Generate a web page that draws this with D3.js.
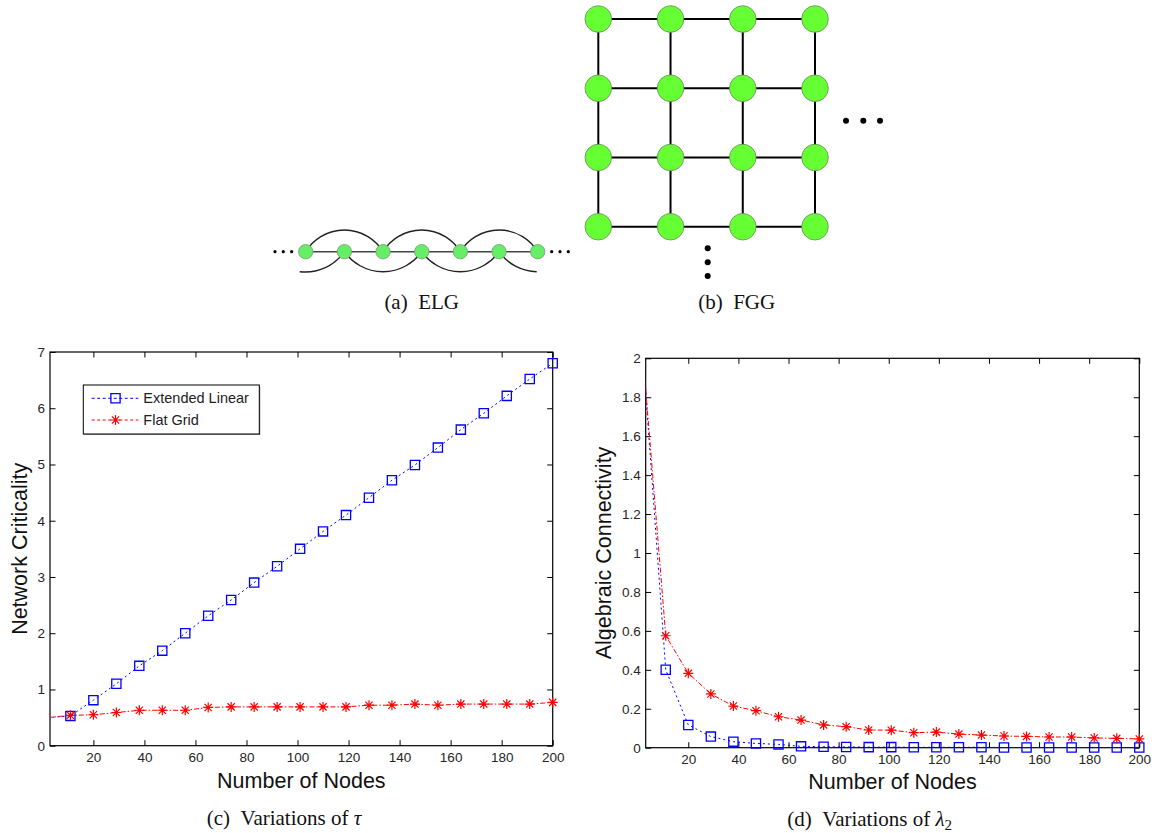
<!DOCTYPE html>
<html><head><meta charset="utf-8">
<script src="https://cdn.jsdelivr.net/npm/d3@7/dist/d3.min.js"></script>
<style>body{margin:0;background:#fff}</style>
</head><body>
<svg id="fig" width="1161" height="833" xmlns="http://www.w3.org/2000/svg"></svg>
<script>
// ---------------- data ----------------
const nodeCounts = [2, 11, 20, 29, 38, 47, 56, 65, 74, 83, 92, 101, 110, 119, 128, 137, 146, 155, 164, 173, 182, 191, 200];
const elgCriticality = [0.50, 0.53, 0.81, 1.10, 1.42, 1.69, 2.00, 2.31, 2.59, 2.90, 3.19, 3.50, 3.81, 4.10, 4.41, 4.72, 4.99, 5.30, 5.62, 5.91, 6.22, 6.52, 6.80];
const fggCriticality = [0.50, 0.54, 0.55, 0.59, 0.63, 0.63, 0.63, 0.68, 0.69, 0.69, 0.69, 0.69, 0.69, 0.69, 0.72, 0.72, 0.74, 0.72, 0.74, 0.74, 0.74, 0.74, 0.77];
const elgLambda2 = [2.00, 0.40, 0.117, 0.057, 0.031, 0.022, 0.017, 0.007, 0.005, 0.004, 0.003, 0.003, 0.002, 0.002, 0.002, 0.002, 0.001, 0.001, 0.001, 0.001, 0.001, 0.001, 0.001];
const fggLambda2 = [2.00, 0.575, 0.382, 0.276, 0.214, 0.19, 0.159, 0.142, 0.117, 0.108, 0.091, 0.09, 0.077, 0.08, 0.070, 0.065, 0.060, 0.058, 0.055, 0.055, 0.05, 0.048, 0.045];
const xTicks = [20, 40, 60, 80, 100, 120, 140, 160, 180, 200];
const yTicksC = [0, 1, 2, 3, 4, 5, 6, 7];
const yTicksD = [0, 0.2, 0.4, 0.6, 0.8, 1, 1.2, 1.4, 1.6, 1.8, 2];
const seriesNames = ["Extended Linear", "Flat Grid"];
const elgNodeIdx = [0, 1, 2, 3, 4, 5, 6];
const fggIdx = [0, 1, 2, 3];

// ---------------- setup ----------------
const svg = d3.select("#fig");
svg.append("rect").attr("width", 1161).attr("height", 833).attr("fill", "#fff");
const SANS = "'Liberation Sans', Arial, sans-serif";
const SERIF = "'Liberation Serif', 'Times New Roman', serif";
const BLUE = "#0000ff", RED = "#ff0000";

const starSym = {
  draw(ctx, size) {
    const r = Math.sqrt(size) / 2, d = r * 0.72;
    ctx.moveTo(0, -r); ctx.lineTo(0, r);
    ctx.moveTo(-r, 0); ctx.lineTo(r, 0);
    ctx.moveTo(-d, -d); ctx.lineTo(d, d);
    ctx.moveTo(-d, d); ctx.lineTo(d, -d);
  }
};
const squareSym = d3.symbol().type(d3.symbolSquare).size(85);
const starPath = d3.symbol().type(starSym).size(100);
const blueDash = "2,3", redDash = "5,2,1.5,2";

// ---------------- (a) ELG ----------------
const ga = svg.append("g");
const ex = d3.scaleLinear().domain([0, 6]).range([305.7, 537.7]);
const ey = 251.7;
function circArc(x1, y1, x2, y2, r, sweep) {
  return `M${x1},${y1} A${r},${r} 0 0 ${sweep} ${x2},${y2}`;
}
// horizontal line
ga.append("line").attr("x1", ex(0)).attr("x2", ex(6)).attr("y1", ey).attr("y2", ey)
  .attr("stroke", "#444").attr("stroke-width", 1.6);
// upper arcs i -> i+2 (even)
[0, 2, 4].forEach(i => {
  ga.append("path").attr("d", circArc(ex(i), ey, ex(i + 2), ey, 45.3, 1))
    .attr("fill", "none").attr("stroke", "#222").attr("stroke-width", 1.4);
});
// lower arcs odd
[1, 3].forEach(i => {
  ga.append("path").attr("d", circArc(ex(i), ey, ex(i + 2), ey, 47.4, 0))
    .attr("fill", "none").attr("stroke", "#222").attr("stroke-width", 1.4);
});
// partial lower arcs at ends
ga.append("path").attr("d", circArc(ex(0) - 6, ey + 20, ex(1), ey, 47.4, 0))
  .attr("fill", "none").attr("stroke", "#222").attr("stroke-width", 1.4);
ga.append("path").attr("d", circArc(ex(5), ey, ex(6) - 1, ey + 20, 47.4, 0))
  .attr("fill", "none").attr("stroke", "#222").attr("stroke-width", 1.4);
ga.selectAll("circle.n").data(elgNodeIdx).join("circle").attr("class", "n")
  .attr("cx", d => ex(d)).attr("cy", ey).attr("r", 7.2)
  .attr("fill", "#66ee66").attr("stroke", "#7a9a7a").attr("stroke-width", 0.8);
[275, 283.3, 291.7, 551.7, 560, 568.3].forEach(x => {
  ga.append("circle").attr("cx", x).attr("cy", ey).attr("r", 1.6).attr("fill", "#000");
});
ga.append("text").attr("x", 421.7).attr("y", 309).attr("text-anchor", "middle")
  .attr("font-family", SERIF).attr("font-size", 21).attr("fill", "#111")
  .text("(a)\u00a0\u00a0ELG");

// ---------------- (b) FGG ----------------
const gb = svg.append("g");
const fx = d3.scaleLinear().domain([0, 3]).range([598.3, 815]);
const fy = d3.scaleLinear().domain([0, 3]).range([19, 226.7]);
fggIdx.forEach(r => {
  gb.append("line").attr("x1", fx(0)).attr("x2", fx(3)).attr("y1", fy(r)).attr("y2", fy(r))
    .attr("stroke", "#000").attr("stroke-width", 2);
  gb.append("line").attr("y1", fy(0)).attr("y2", fy(3)).attr("x1", fx(r)).attr("x2", fx(r))
    .attr("stroke", "#000").attr("stroke-width", 2);
});
fggIdx.forEach(r => fggIdx.forEach(c => {
  gb.append("circle").attr("cx", fx(c)).attr("cy", fy(r)).attr("r", 13.3)
    .attr("fill", "#66ff33").attr("stroke", "#6a8a5a").attr("stroke-width", 0.8);
}));
[[846, 120.7], [863.3, 120.7], [880, 120.7], [707.7, 248.3], [707.7, 262.3], [707.7, 276]].forEach(p => {
  gb.append("circle").attr("cx", p[0]).attr("cy", p[1]).attr("r", 3).attr("fill", "#000");
});
gb.append("text").attr("x", 736.7).attr("y", 309).attr("text-anchor", "middle")
  .attr("font-family", SERIF).attr("font-size", 21).attr("fill", "#111")
  .text("(b)\u00a0\u00a0FGG");

// ---------------- plots ----------------
function drawPlot(cfg) {
  const g = svg.append("g");
  const x = d3.scaleLinear().domain([3, 200]).range([cfg.x0, cfg.x1]);
  const y = d3.scaleLinear().domain(cfg.yDomain).range([cfg.y1, cfg.y0]);
  const clipId = "clip" + cfg.id;
  svg.append("clipPath").attr("id", clipId).append("rect")
    .attr("x", cfg.x0).attr("y", cfg.y0).attr("width", cfg.x1 - cfg.x0).attr("height", cfg.y1 - cfg.y0);

  const fmt = d => String(+d.toFixed(1));
  const styleAxis = sel => {
    sel.select(".domain").remove();
    sel.selectAll(".tick line").attr("stroke", "#000").attr("stroke-width", 1);
    sel.selectAll(".tick text").attr("font-family", SANS).attr("font-size", 13.5).attr("fill", "#262626");
  };
  g.append("g").attr("transform", `translate(0,${cfg.y1})`)
    .call(d3.axisBottom(x).tickValues(xTicks).tickSize(-5.5).tickPadding(6.5).tickFormat(fmt)).call(styleAxis);
  g.append("g").attr("transform", `translate(0,${cfg.y0})`)
    .call(d3.axisTop(x).tickValues(xTicks).tickSize(-5.5).tickFormat("")).call(styleAxis);
  g.append("g").attr("transform", `translate(${cfg.x0},0)`)
    .call(d3.axisLeft(y).tickValues(cfg.yTicks).tickSize(-5.5).tickPadding(5).tickFormat(fmt)).call(styleAxis);
  g.append("g").attr("transform", `translate(${cfg.x1},0)`)
    .call(d3.axisRight(y).tickValues(cfg.yTicks).tickSize(-5.5).tickFormat("")).call(styleAxis);
  g.append("rect").attr("x", cfg.x0).attr("y", cfg.y0).attr("width", cfg.x1 - cfg.x0).attr("height", cfg.y1 - cfg.y0)
    .attr("fill", "none").attr("stroke", "#000").attr("stroke-width", 1.2);

  const line = d3.line().x((d, i) => x(nodeCounts[i])).y(d => y(d));
  g.append("path").datum(cfg.blue).attr("d", line).attr("clip-path", `url(#${clipId})`)
    .attr("fill", "none").attr("stroke", BLUE).attr("stroke-width", 1).attr("stroke-dasharray", blueDash);
  g.append("path").datum(cfg.red).attr("d", line).attr("clip-path", `url(#${clipId})`)
    .attr("fill", "none").attr("stroke", RED).attr("stroke-width", 1).attr("stroke-dasharray", redDash);

  const pts = (arr) => arr.map((v, i) => ({ x: nodeCounts[i], v })).filter(p => p.x >= 3);
  g.selectAll("path.sq").data(pts(cfg.blue)).join("path").attr("class", "sq")
    .attr("transform", d => `translate(${x(d.x)},${y(d.v)})`).attr("d", squareSym)
    .attr("fill", "none").attr("stroke", BLUE).attr("stroke-width", 1.3);
  g.selectAll("path.st").data(pts(cfg.red)).join("path").attr("class", "st")
    .attr("transform", d => `translate(${x(d.x)},${y(d.v)})`).attr("d", starPath)
    .attr("fill", "none").attr("stroke", RED).attr("stroke-width", 1.2);

  // axis labels
  g.append("text").attr("x", (cfg.x0 + cfg.x1) / 2).attr("y", cfg.xlabY).attr("text-anchor", "middle")
    .attr("font-family", SANS).attr("font-size", 21.5).attr("fill", "#111").text("Number of Nodes");
  g.append("text").attr("transform", `translate(${cfg.ylabX},${(cfg.y0 + cfg.y1) / 2}) rotate(-90)`)
    .attr("text-anchor", "middle").attr("font-family", SANS).attr("font-size", 21.5).attr("fill", "#111")
    .text(cfg.ylabel);
  return { g, x, y };
}

const pc = drawPlot({ id: "c", x0: 50, x1: 552.7, y0: 352, y1: 745.7, yDomain: [0, 7], yTicks: yTicksC,
  blue: elgCriticality, red: fggCriticality, xlabY: 787.5, ylabX: 26.5, ylabel: "Network Criticality" });
const pd = drawPlot({ id: "d", x0: 645.7, x1: 1139.3, y0: 358.3, y1: 747.7, yDomain: [0, 2], yTicks: yTicksD,
  blue: elgLambda2, red: fggLambda2, xlabY: 789, ylabX: 611, ylabel: "Algebraic Connectivity" });

// legend in (c)
const lg = svg.append("g");
lg.append("rect").attr("x", 84.3).attr("y", 386).attr("width", 176).attr("height", 49).attr("fill", "#999");
lg.append("rect").attr("x", 83.3).attr("y", 385).attr("width", 176).attr("height", 49)
  .attr("fill", "#fff").attr("stroke", "#000").attr("stroke-width", 1);
const legRows = [
  { name: seriesNames[0], color: BLUE, sym: squareSym, y: 398.3, sw: 1.3 },
  { name: seriesNames[1], color: RED, sym: starPath, y: 420, sw: 1.2 }
];
legRows.forEach(r => {
  lg.append("line").attr("x1", 91.7).attr("x2", 138.3).attr("y1", r.y).attr("y2", r.y)
    .attr("stroke", r.color).attr("stroke-width", 1).attr("stroke-dasharray", "3,2.5");
  lg.append("path").attr("transform", `translate(115.5,${r.y})`).attr("d", r.sym)
    .attr("fill", "none").attr("stroke", r.color).attr("stroke-width", r.sw);
  lg.append("text").attr("x", 143.3).attr("y", r.y).attr("dy", "0.35em")
    .attr("font-family", SANS).attr("font-size", 14.5).attr("fill", "#222").text(r.name);
});

// captions
const capC = svg.append("text").attr("x", 284).attr("y", 825).attr("text-anchor", "middle")
  .attr("font-family", SERIF).attr("font-size", 21).attr("fill", "#111");
capC.append("tspan").text("(c)\u00a0\u00a0Variations of ");
capC.append("tspan").attr("font-style", "italic").text("τ");
const capD = svg.append("text").attr("x", 869.7).attr("y", 826).attr("text-anchor", "middle")
  .attr("font-family", SERIF).attr("font-size", 21).attr("fill", "#111");
capD.append("tspan").text("(d)\u00a0\u00a0Variations of ");
capD.append("tspan").attr("font-style", "italic").text("λ");
capD.append("tspan").attr("font-size", 15).attr("dy", 4).text("2");
</script>
</body></html>
